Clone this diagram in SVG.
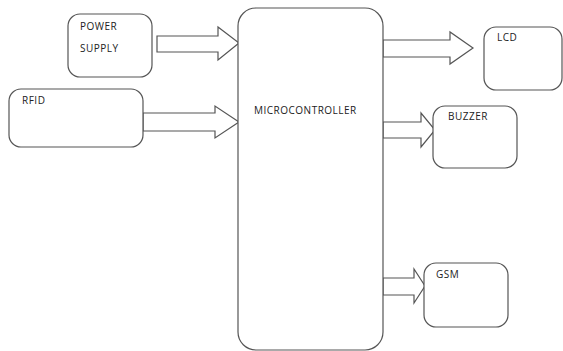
<svg xmlns="http://www.w3.org/2000/svg" width="563" height="351" viewBox="0 0 563 351">
<style>
.box{fill:#fff;stroke:#555;stroke-width:1.2}
.arr{fill:#fff;stroke:#555;stroke-width:1.2;stroke-linejoin:miter}
text{font-family:"Open Sans","Liberation Sans",sans-serif;font-size:10px;letter-spacing:0.5px;fill:#222}
</style>
<rect width="563" height="351" fill="#fff"/>
<g id="connectors">
<polygon class="arr" points="157,36 218,36 218,27 239,43 218,60 218,52 157,52"/>
<polygon class="arr" points="143,113 215,113 215,106 239,122 215,138 215,131 143,131"/>
<polygon class="arr" points="383,40 450,40 450,32 473,48 450,64 450,57 383,57"/>
<polygon class="arr" points="383,122 421,122 421,113 435,130 421,147 421,138 383,138"/>
<polygon class="arr" points="383,278 414,278 414,269 425,286 414,303 414,295 383,295"/>
</g>
<g id="power">
<rect class="box" x="68" y="14" width="84" height="63" rx="12"/>
<text x="80" y="30">POWER</text>
<text x="80" y="52">SUPPLY</text>
</g>
<g id="rfid">
<rect class="box" x="9" y="89" width="134" height="58" rx="12"/>
<text x="22" y="104">RFID</text>
</g>
<g id="mcu">
<rect class="box" x="238" y="8" width="145" height="342" rx="18"/>
<text x="254" y="114">MICROCONTROLLER</text>
</g>
<g id="lcd">
<rect class="box" x="484" y="27" width="78" height="63" rx="12"/>
<text x="497" y="41">LCD</text>
</g>
<g id="buzzer">
<rect class="box" x="433" y="106" width="84" height="62" rx="12"/>
<text x="448" y="120">BUZZER</text>
</g>
<g id="gsm">
<rect class="box" x="424" y="263" width="84" height="64" rx="12"/>
<text x="436" y="278">GSM</text>
</g>
</svg>
